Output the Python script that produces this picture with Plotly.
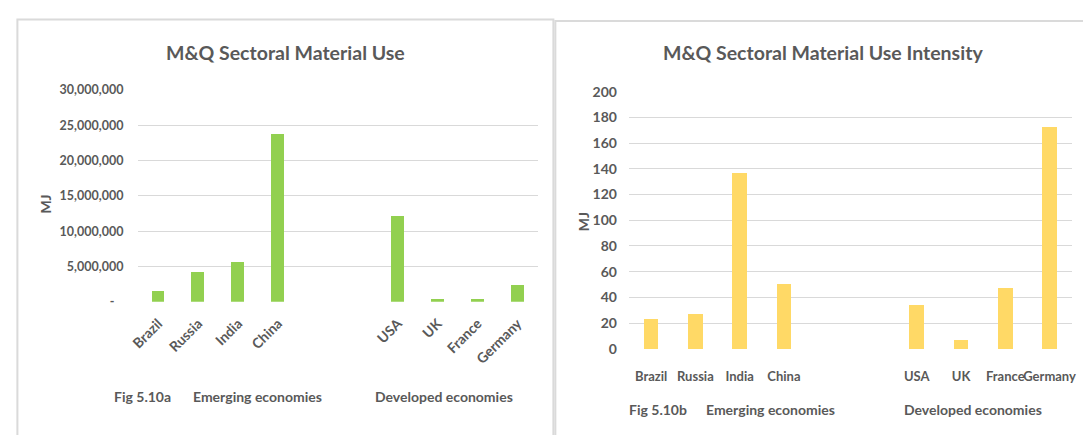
import plotly.graph_objects as go

# --- data -----------------------------------------------------------------
emerging = ["Brazil", "Russia", "India", "China"]
developed = ["USA", "UK", "France", "Germany"]
spacers = [" ", "  "]  # empty slots separating the two country groups

material_use_emerging = [1_460_000, 4_220_000, 5_680_000, 23_740_000]
material_use_developed = [12_170_000, 410_000, 410_000, 2_410_000]

intensity_emerging = [23.2, 27.4, 137.0, 51.1]
intensity_developed = [34.7, 7.5, 47.6, 172.6]

use_tickvals = [0, 5_000_000, 10_000_000, 15_000_000, 20_000_000, 25_000_000, 30_000_000]
use_ticktext = ["-\u00a0\u00a0\u00a0", "5,000,000", "10,000,000", "15,000,000",
                "20,000,000", "25,000,000", "30,000,000"]
intensity_tickvals = list(range(0, 201, 20))

title_a = "M&Q Sectoral Material Use"
title_b = "M&Q Sectoral Material Use Intensity"

# --- styling --------------------------------------------------------------
W, H = 1083, 435
FONT = "Lato, 'Open Sans', sans-serif"
TXT = "#595959"
GRID = "#D9D9D9"
GREEN = "#92D050"
YELLOW = "#FFD966"


def px(x):
    return x / W


def py(y):
    return 1 - y / H


categories = emerging + spacers + developed
use_values = material_use_emerging + [None, None] + material_use_developed
intensity_values = intensity_emerging + [None, None] + intensity_developed

fig = go.Figure()
fig.add_trace(go.Bar(x=categories, y=use_values, marker_color=GREEN, width=0.32,
                     xaxis="x", yaxis="y", showlegend=False, marker_line_width=0))
fig.add_trace(go.Bar(x=categories, y=intensity_values, marker_color=YELLOW, width=0.33,
                     xaxis="x2", yaxis="y2", showlegend=False, marker_line_width=0))


def f(size):
    return dict(family=FONT, size=size, color=TXT, weight="bold")


fig.update_layout(
    width=W, height=H, autosize=False,
    margin=dict(l=0, r=0, t=0, b=0),
    paper_bgcolor="white", plot_bgcolor="white",
    font=dict(family=FONT, color=TXT),
    xaxis=dict(domain=[px(131), px(535)], anchor="y", type="category",
               categoryorder="array", categoryarray=categories,
               range=[-0.5, len(categories) - 0.5],
               tickangle=-45, tickfont=f(14), showgrid=False, zeroline=False,
               showline=False, ticks="", ticklabelstandoff=10),
    yaxis=dict(domain=[py(304.7), py(84.3)], anchor="x", range=[0, 30_000_000],
               tickvals=use_tickvals, ticktext=use_ticktext, tickfont=f(12.5),
               showgrid=True, gridcolor=GRID, gridwidth=1.3, zeroline=False,
               showline=False, ticks="", ticklabelstandoff=14),
    xaxis2=dict(domain=[px(627.5), px(1075.6)], anchor="y2", type="category",
                categoryorder="array", categoryarray=categories,
                range=[-0.5, len(categories) - 0.5],
                tickangle=0, tickfont=f(13),
                showgrid=False, zeroline=False, showline=False, ticks="",
                ticklabelstandoff=18),
    yaxis2=dict(domain=[py(353.7), py(86)], anchor="x2", range=[0, 200],
                tickvals=intensity_tickvals, tickfont=f(14),
                showgrid=True, gridcolor=GRID, gridwidth=1.3, zeroline=False,
                showline=False, ticks="", ticklabelstandoff=11),
    bargap=0.0,
)

# chart cards
fig.add_shape(type="rect", xref="paper", yref="paper",
              x0=px(8.5), x1=px(551), y0=py(445), y1=py(11),
              line=dict(color="#DADADA", width=2), fillcolor="rgba(0,0,0,0)", layer="below")
fig.add_shape(type="rect", xref="paper", yref="paper",
              x0=px(553), x1=px(1095), y0=py(445), y1=py(12.5),
              line=dict(color="#DADADA", width=2), fillcolor="rgba(0,0,0,0)", layer="below")


def note(text, x, y, font, xanchor="left", angle=0):
    fig.add_annotation(text=text, xref="paper", yref="paper", x=px(x), y=py(y),
                       xanchor=xanchor, yanchor="middle", showarrow=False,
                       font=font, textangle=angle, borderpad=0)


note(title_a, 279.5, 45, f(19.5), xanchor="center")
note(title_b, 824, 45, f(19.5), xanchor="center")

note("MJ", 37, 203, f(14), xanchor="center", angle=-90)
note("MJ", 581, 222, f(14), xanchor="center", angle=-90)

label_font = f(14)
note("Fig 5.10a", 105, 403, label_font)
note("Emerging economies", 185, 403, label_font)
note("Developed economies", 369, 403, label_font)
note("Fig 5.10b", 626.5, 417, label_font)
note("Emerging economies", 704, 417, label_font)
note("Developed economies", 905, 417, label_font)

fig.write_html("out.html")
